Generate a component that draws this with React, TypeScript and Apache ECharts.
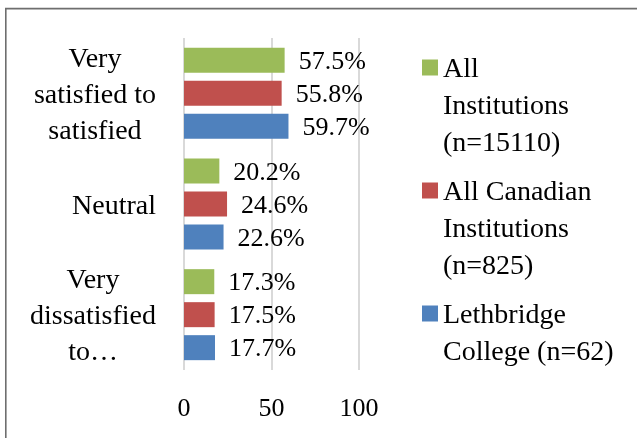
import React, { useEffect, useRef } from 'react';
import * as echarts from 'echarts';

const categories = ['Very\nsatisfied to\nsatisfied', 'Neutral', 'Very\ndissatisfied\nto…'];
const seriesNames = ['All\nInstitutions\n(n=15110)', 'All Canadian\nInstitutions\n(n=825)', 'Lethbridge\nCollege (n=62)'];
const allInstitutions = [57.5, 20.2, 17.3];
const allCanadian = [55.8, 24.6, 17.5];
const lethbridge = [59.7, 22.6, 17.7];
const seriesColors = ['#9BBB59', '#C0504D', '#4F81BD'];
const xMin = 0;
const xMax = 100;
const xInterval = 50;

const FONT = '"Liberation Serif", serif';

export default function App() {
  const ref = useRef<HTMLDivElement>(null);
  useEffect(() => {
    if (!ref.current) return;
    const chart = echarts.init(ref.current, null, { renderer: 'svg' });
    const values = [allInstitutions, allCanadian, lethbridge];
    const legendFormatter = (name: string) => {
      const lines = ['', '', ...name.split('\n')];
      while (lines.length < 5) lines.push('');
      return lines.join('\n');
    };
    chart.setOption({
      animation: false,
      textStyle: { fontFamily: FONT },
      graphic: [
        {
          type: 'rect',
          shape: { x: 5.8, y: 8.6, width: 900, height: 700 },
          style: { fill: 'none', stroke: '#6e6e6e', lineWidth: 1.6 },
          silent: true,
        },
      ],
      grid: { left: 184, right: 278, top: 38, bottom: 68, containLabel: false },
      legend: {
        orient: 'vertical',
        left: 422,
        top: -25,
        padding: 0,
        itemWidth: 16,
        itemHeight: 16,
        itemGap: -62,
        icon: 'rect',
        formatter: legendFormatter,
        textStyle: { fontFamily: FONT, fontSize: 28, lineHeight: 37, color: '#000' },
        data: seriesNames,
      },
      xAxis: {
        type: 'value',
        min: xMin,
        max: xMax,
        interval: xInterval,
        axisLine: { show: false },
        axisTick: { show: false },
        splitLine: { show: true, lineStyle: { color: '#D9D9D9', width: 2 } },
        axisLabel: { fontFamily: FONT, fontSize: 26, color: '#000', margin: 24 },
      },
      yAxis: {
        type: 'category',
        inverse: true,
        data: categories,
        axisLine: { show: false },
        axisTick: { show: false },
        axisLabel: {
          margin: 28,
          align: 'right',
          formatter: (v: string) => v.split('\n').map((l) => `{c|${l}}`).join('\n'),
          rich: {
            c: { align: 'center', fontFamily: FONT, fontSize: 28, lineHeight: 36, color: '#000' },
          },
        },
      },
      series: seriesNames.map((name, i) => ({
        name,
        type: 'bar',
        data: values[i],
        barWidth: 25,
        barGap: '32%',
        itemStyle: { color: seriesColors[i] },
        label: {
          show: true,
          position: 'right',
          distance: 14,
          fontFamily: FONT,
          fontSize: 26,
          color: '#000',
          formatter: (p: any) => `${Number(p.value).toFixed(1)}%`,
        },
      })),
    });
    return () => chart.dispose();
  }, []);
  return <div ref={ref} style={{ position: 'fixed', left: 0, top: 0, width: 637, height: 438 }} />;
}
